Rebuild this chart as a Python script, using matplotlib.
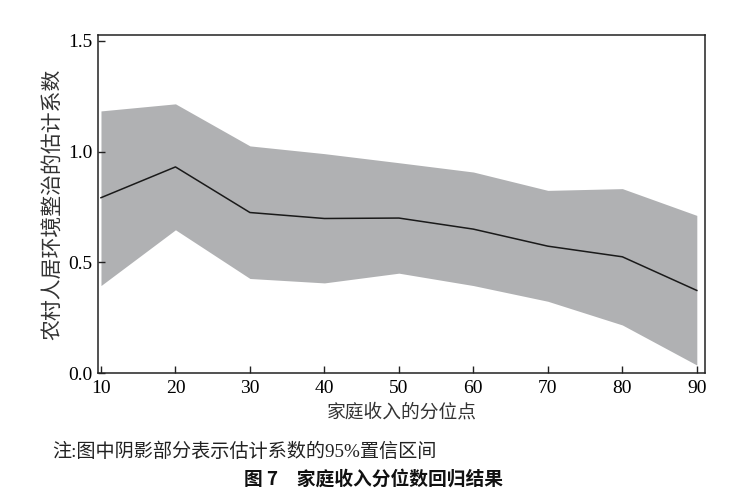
import matplotlib
matplotlib.use("Agg")
import matplotlib.pyplot as plt

# quantile points and regression estimates
quantiles = [10, 20, 30, 40, 50, 60, 70, 80, 90]
coef = [0.792, 0.931, 0.725, 0.698, 0.700, 0.650, 0.573, 0.525, 0.373]
ci_upper = [1.184, 1.216, 1.026, 0.991, 0.950, 0.908, 0.825, 0.833, 0.712]
ci_lower = [0.395, 0.647, 0.427, 0.407, 0.451, 0.395, 0.324, 0.217, 0.036]

y_ticks = [0.0, 0.5, 1.0, 1.5]
y_ticklabels = ["0.0", "0.5", "1.0", "1.5"]

xlabel = "家庭收入的分位点"
ylabel = "农村人居环境整治的估计系数"
note = "注:图中阴影部分表示估计系数的95%置信区间"
title = "图 7　家庭收入分位数回归结果"

serif = ["Liberation Serif", "Noto Sans CJK SC"]
cjk = ["Noto Sans CJK SC", "DejaVu Sans"]

fig = plt.figure(figsize=(7.29, 4.96), dpi=100)
ax = fig.add_axes([98 / 729, 123 / 496, 607 / 729, 338 / 496])

ax.fill_between(quantiles, ci_lower, ci_upper, color="#b0b1b3", linewidth=0, zorder=1)
ax.plot(quantiles, coef, color="#1a1a1a", linewidth=1.1, zorder=2)

ax.set_xlim(9.6, 91.1)
ax.set_ylim(0.0, 1.527)
ax.set_xticks(quantiles)
ax.set_xticklabels([str(q) for q in quantiles], fontfamily=serif, fontsize=14)
ax.set_yticks(y_ticks)
ax.set_yticklabels(y_ticklabels, fontfamily=serif, fontsize=14)
ax.tick_params(direction="in", length=5, width=1, color="#222222", pad=4)
ax.tick_params(axis="x", pad=5)
for s in ax.spines.values():
    s.set_linewidth(1.1)
    s.set_color("#222222")

ax.set_xlabel(xlabel, family=cjk, fontsize=13.5, color="#333333", labelpad=3)
ax.set_ylabel(ylabel, family=cjk, fontsize=15, color="#333333", labelpad=3)

fig.text(52 / 729, 1 - 452 / 496, note, family=serif, fontsize=13.8,
         color="#222222", ha="left", va="center")
fig.text(373 / 729, 1 - 479 / 496, title, family=cjk, fontsize=13.5,
         fontweight="bold", color="#111111", ha="center", va="center")

fig.savefig("out.png", dpi=100)
